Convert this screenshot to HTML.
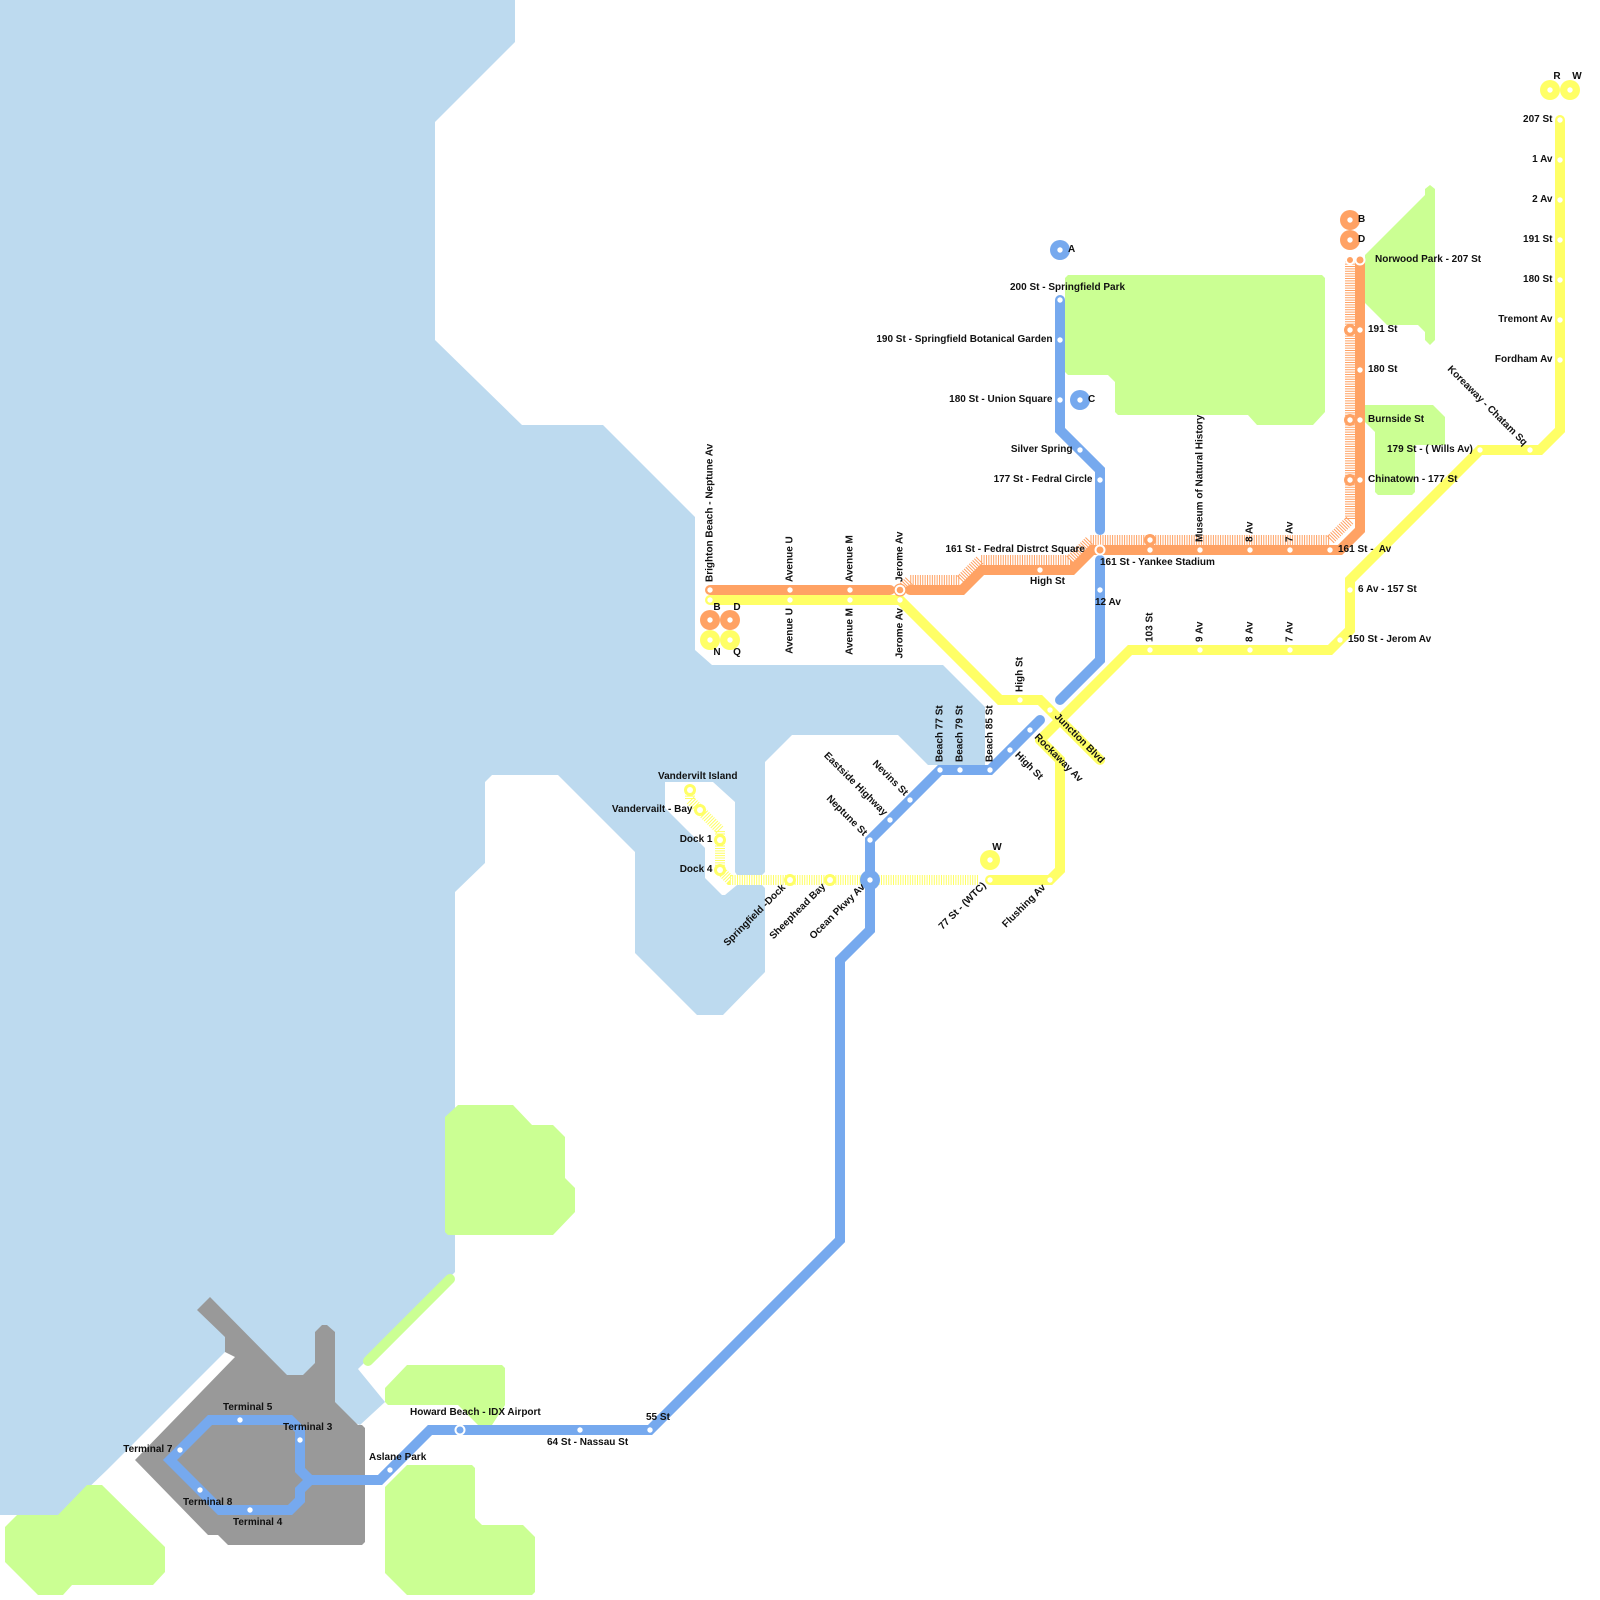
<!DOCTYPE html>
<html>
<head>
<meta charset="utf-8">
<style>
html,body{margin:0;padding:0;background:#fff;}
svg{display:block;}
text{font-family:"Liberation Sans",Arial,sans-serif;font-size:10px;font-weight:bold;fill:#111;white-space:pre;}
.e{text-anchor:end;}
.m{text-anchor:middle;}
.l{fill:none;stroke-width:10;stroke-linecap:round;stroke-linejoin:miter;}
.h{fill:none;stroke-width:10;stroke-linecap:butt;stroke-dasharray:1 1.4;}
.b{stroke:#76A9EE;}
.o{stroke:#FFA264;}
.y{stroke:#FFFF66;}
</style>
</head>
<body>
<svg xmlns="http://www.w3.org/2000/svg" width="1600" height="1600" viewBox="0 0 1600 1600">
<rect width="1600" height="1600" fill="#fff"/>
<!-- water -->
<polygon fill="#BDDAEF" points="0,0 515,0 515,42 435,122 435,340 522,425 603,425 695,517 695,650 712,665 943,665 985,707 985,765 928,765 898,735 792,735 765,762 765,872 762,875 737,875 735,872 735,802 713,782 665,782 665,808 705,848 705,878 722,895 725,895 737,885 762,885 765,888 765,972 723,1015 697,1015 635,953 635,852 558,775 492,775 485,782 485,863 455,892 455,1272 452,1275 358,1369 385,1402 360,1425 300,1400 235,1330 225,1352 107,1470 60,1515 0,1515"/>
<!-- parks -->
<g fill="#CBFF93">
<polygon points="1065,278 1068,275 1322,275 1325,278 1325,412 1313,425 1257,425 1248,415 1118,415 1115,412 1115,382 1108,375 1068,375 1065,372"/>
<polygon points="1365,255 1425,195 1425,189 1430,185 1435,189 1435,340 1430,345 1425,340 1425,332 1418,325 1387,325 1365,303"/>
<polygon points="1365,405 1433,405 1445,417 1445,445 1415,445 1415,492 1412,495 1378,495 1375,492 1375,432 1365,422"/>
<polygon points="445,1117 458,1105 513,1105 532,1125 553,1125 565,1137 565,1178 575,1188 575,1212 553,1235 448,1235 445,1232"/>
<polygon points="5,1527 17,1515 58,1515 87,1485 102,1485 165,1547 165,1572 153,1585 72,1585 63,1595 38,1595 5,1562"/>
<polygon points="385,1388 407,1365 502,1365 505,1368 505,1405 492,1425 478,1425 458,1405 388,1405 385,1402"/>
<polygon points="385,1487 407,1465 472,1465 475,1468 475,1518 482,1525 523,1525 535,1537 535,1592 532,1595 407,1595 385,1573"/>
<path d="M450,1279 L368,1361" fill="none" stroke="#CBFF93" stroke-width="10" stroke-linecap="round"/>
</g>
<!-- airport -->
<polygon fill="#999999" points="210,1297 197,1310 225,1337 225,1352 235,1357 135,1460 208,1535 218,1535 228,1545 362,1545 365,1542 365,1428 362,1425 358,1425 335,1402 335,1332 327,1325 322,1325 315,1332 315,1363 303,1375 287,1375"/>
<!-- blue lines -->
<path class="l b" d="M1060,300 L1060,430 L1100,470 L1100,530"/>
<path class="l b" d="M1100,560 L1100,660 L1060,700"/>
<path class="l b" d="M1040,720 L990,770 L940,770 L870,840 L870,930 L840,960 L840,1240 L650,1430 L430,1430 L380,1480 L310,1480"/>
<path class="l b" d="M310,1480 L300,1470 L300,1430 L290,1420 L210,1420 L170,1460 L220,1510 L290,1510 L300,1500 L300,1490 L310,1480"/>
<!-- yellow lines -->
<path class="l y" d="M710,600 L900,600 L1000,700 L1040,700 L1100,760"/>
<path class="l y" d="M1560,120 L1560,430 L1540,450 L1480,450 L1350,580 L1350,630 L1330,650 L1130,650 L1040,740"/>
<path class="l y" d="M1040,740 L1060,760 L1060,870 L1050,880 L990,880"/>
<path class="h y" d="M978,880 L730,880 L720,870 L720,830 L690,800 L690,790"/>
<!-- orange lines -->
<path class="l o" d="M710,590 L890,590"/>
<path class="l o" d="M910,590 L962,590 L982,570 L1072,570 L1092,550 L1340,550 L1360,530 L1360,260"/>
<path class="h o" d="M900,590 L910,580 L960,580 L980,560 L1070,560 L1090,540 L1330,540 L1350,520 L1350,260"/>
<!-- interchange circles -->
<g fill="#76A9EE">
<circle cx="1060" cy="250" r="10"/><circle cx="1080" cy="400" r="10"/><circle cx="870" cy="880" r="10"/>
</g>
<g fill="#FFA264">
<circle cx="1350" cy="220" r="10"/><circle cx="1350" cy="240" r="10"/><circle cx="710" cy="620" r="10"/><circle cx="730" cy="620" r="10"/>
<circle cx="1350" cy="330" r="6"/><circle cx="1350" cy="420" r="6"/><circle cx="1350" cy="480" r="6"/><circle cx="1150" cy="540" r="6"/>
<circle cx="900" cy="590" r="6.5"/>
</g>
<g fill="#FFFF66">
<circle cx="710" cy="640" r="10"/><circle cx="730" cy="640" r="10"/><circle cx="1550" cy="90" r="10"/><circle cx="1570" cy="90" r="10"/><circle cx="990" cy="860" r="10"/>
<circle cx="690" cy="790" r="6"/><circle cx="700" cy="810" r="6"/><circle cx="720" cy="840" r="6"/><circle cx="720" cy="870" r="6"/><circle cx="790" cy="880" r="6"/><circle cx="830" cy="880" r="6"/>
</g>
<!-- hollow rings -->
<circle cx="900" cy="590" r="4.3" fill="#FFA264" stroke="#fff" stroke-width="2"/>
<circle cx="1100" cy="550" r="4.5" fill="#FFA264" stroke="#fff" stroke-width="2"/>
<circle cx="460" cy="1430" r="4.5" fill="#76A9EE" stroke="#fff" stroke-width="2"/>
<circle cx="1360" cy="260" r="4.5" fill="#FFA264" stroke="#fff" stroke-width="2"/>
<circle cx="1350" cy="260" r="4" fill="#FFA264" stroke="#fff" stroke-width="2"/>
<!-- station dots -->
<g fill="#fff">
<circle cx="710" cy="590" r="2.7"/><circle cx="790" cy="590" r="2.7"/><circle cx="850" cy="590" r="2.7"/>
<circle cx="710" cy="600" r="2.7"/><circle cx="790" cy="600" r="2.7"/><circle cx="850" cy="600" r="2.7"/><circle cx="900" cy="600" r="2.7"/>
<circle cx="710" cy="620" r="2.7"/><circle cx="730" cy="620" r="2.7"/><circle cx="710" cy="640" r="2.7"/><circle cx="730" cy="640" r="2.7"/>
<circle cx="1040" cy="570" r="2.7"/>
<circle cx="1150" cy="540" r="2.7"/><circle cx="1150" cy="550" r="2.7"/><circle cx="1200" cy="550" r="2.7"/><circle cx="1250" cy="550" r="2.7"/><circle cx="1290" cy="550" r="2.7"/><circle cx="1330" cy="550" r="2.7"/>
<circle cx="1350" cy="220" r="2.7"/><circle cx="1350" cy="240" r="2.7"/>
<circle cx="1350" cy="330" r="2.7"/><circle cx="1350" cy="420" r="2.7"/><circle cx="1350" cy="480" r="2.7"/>
<circle cx="1360" cy="330" r="2.7"/><circle cx="1360" cy="370" r="2.7"/><circle cx="1360" cy="420" r="2.7"/><circle cx="1360" cy="480" r="2.7"/>
<circle cx="1060" cy="250" r="2.7"/><circle cx="1080" cy="400" r="2.7"/>
<circle cx="1060" cy="300" r="2.7"/><circle cx="1060" cy="340" r="2.7"/><circle cx="1060" cy="400" r="2.7"/><circle cx="1080" cy="450" r="2.7"/><circle cx="1100" cy="480" r="2.7"/><circle cx="1100" cy="590" r="2.7"/>
<circle cx="1030" cy="730" r="2.7"/><circle cx="1010" cy="750" r="2.7"/><circle cx="990" cy="770" r="2.7"/><circle cx="960" cy="770" r="2.7"/><circle cx="940" cy="770" r="2.7"/>
<circle cx="910" cy="800" r="2.7"/><circle cx="890" cy="820" r="2.7"/><circle cx="870" cy="840" r="2.7"/><circle cx="870" cy="880" r="2.7"/>
<circle cx="650" cy="1430" r="2.7"/><circle cx="580" cy="1430" r="2.7"/><circle cx="390" cy="1470" r="2.7"/>
<circle cx="240" cy="1420" r="2.7"/><circle cx="300" cy="1440" r="2.7"/><circle cx="180" cy="1450" r="2.7"/><circle cx="200" cy="1490" r="2.7"/><circle cx="250" cy="1510" r="2.7"/>
<circle cx="1560" cy="120" r="2.7"/><circle cx="1560" cy="160" r="2.7"/><circle cx="1560" cy="200" r="2.7"/><circle cx="1560" cy="240" r="2.7"/><circle cx="1560" cy="280" r="2.7"/><circle cx="1560" cy="320" r="2.7"/><circle cx="1560" cy="360" r="2.7"/>
<circle cx="1550" cy="90" r="2.7"/><circle cx="1570" cy="90" r="2.7"/>
<circle cx="1530" cy="450" r="2.7"/><circle cx="1480" cy="450" r="2.7"/><circle cx="1350" cy="590" r="2.7"/><circle cx="1340" cy="640" r="2.7"/>
<circle cx="1150" cy="650" r="2.7"/><circle cx="1200" cy="650" r="2.7"/><circle cx="1250" cy="650" r="2.7"/><circle cx="1290" cy="650" r="2.7"/>
<circle cx="1020" cy="700" r="2.7"/><circle cx="1050" cy="710" r="2.7"/>
<circle cx="990" cy="860" r="2.7"/><circle cx="990" cy="880" r="2.7"/><circle cx="1050" cy="880" r="2.7"/>
<circle cx="690" cy="790" r="3"/><circle cx="700" cy="810" r="3"/><circle cx="720" cy="840" r="3"/><circle cx="720" cy="870" r="3"/><circle cx="790" cy="880" r="3"/><circle cx="830" cy="880" r="3"/>
</g>
<!-- horizontal labels -->
<g transform="translate(0,-1)">
<text x="1068" y="253">A</text>
<text x="1088" y="403">C</text>
<text x="1010" y="291">200 St - Springfield Park</text>
<text class="e" x="1052.5" y="343">190 St - Springfield Botanical Garden</text>
<text class="e" x="1052.5" y="403">180 St - Union Square</text>
<text class="e" x="1072.5" y="453">Silver Spring</text>
<text class="e" x="1092.5" y="483">177 St - Fedral Circle</text>
<text class="e" x="1085" y="553">161 St - Fedral Distrct Square</text>
<text x="1030" y="585">High St</text>
<text x="1100" y="566">161 St - Yankee Stadium</text>
<text x="1095" y="606">12 Av</text>
<text x="1358" y="223">B</text>
<text x="1358" y="243">D</text>
<text x="1375" y="263">Norwood Park - 207 St</text>
<text x="1368" y="333">191 St</text>
<text x="1368" y="373">180 St</text>
<text x="1368" y="423">Burnside St</text>
<text x="1368" y="483">Chinatown - 177 St</text>
<text x="1387" y="453">179 St - ( Wills Av)</text>
<text x="1338" y="553" xml:space="preserve">161 St -  Av</text>
<text x="1358" y="593">6 Av - 157 St</text>
<text x="1348" y="643">150 St - Jerom Av</text>
<text class="e" x="1552.5" y="123">207 St</text>
<text class="e" x="1552.5" y="163">1 Av</text>
<text class="e" x="1552.5" y="203">2 Av</text>
<text class="e" x="1552.5" y="243">191 St</text>
<text class="e" x="1552.5" y="283">180 St</text>
<text class="e" x="1552.5" y="323">Tremont Av</text>
<text class="e" x="1552.5" y="363">Fordham Av</text>
<text class="m" x="1557" y="80">R</text>
<text class="m" x="1577" y="80">W</text>
<text class="m" x="717" y="611">B</text>
<text class="m" x="737" y="611">D</text>
<text class="m" x="717" y="656">N</text>
<text class="m" x="737" y="656">Q</text>
<text class="m" x="997" y="851">W</text>
<text x="658" y="780">Vandervilt Island</text>
<text class="e" x="692.5" y="813">Vandervailt - Bay</text>
<text class="e" x="712.5" y="843">Dock 1</text>
<text class="e" x="712.5" y="873">Dock 4</text>
<text x="223" y="1411">Terminal 5</text>
<text x="283" y="1431">Terminal 3</text>
<text class="e" x="172.5" y="1453">Terminal 7</text>
<text x="183" y="1506">Terminal 8</text>
<text x="233" y="1526">Terminal 4</text>
<text x="369" y="1461">Aslane Park</text>
<text x="410" y="1416">Howard Beach - IDX Airport</text>
<text x="547" y="1446">64 St - Nassau St</text>
<text x="646" y="1421">55 St</text>
</g>
<!-- vertical labels -->
<g transform="translate(-0.7,0)">
<text transform="translate(713,582) rotate(-90)">Brighton Beach - Neptune Av</text>
<text transform="translate(793,582) rotate(-90)">Avenue U</text>
<text transform="translate(853,582) rotate(-90)">Avenue M</text>
<text transform="translate(903,582) rotate(-90)">Jerome Av</text>
<text class="e" transform="translate(793,608) rotate(-90)">Avenue U</text>
<text class="e" transform="translate(853,608) rotate(-90)">Avenue M</text>
<text class="e" transform="translate(903,608) rotate(-90)">Jerome Av</text>
<text transform="translate(1023,692) rotate(-90)">High St</text>
<text transform="translate(943,762) rotate(-90)">Beach 77 St</text>
<text transform="translate(963,762) rotate(-90)">Beach 79 St</text>
<text transform="translate(993,762) rotate(-90)">Beach 85 St</text>
<text transform="translate(1203,542) rotate(-90)">Museum of Natural History</text>
<text transform="translate(1253,542) rotate(-90)">8 Av</text>
<text transform="translate(1293,542) rotate(-90)">7 Av</text>
<text transform="translate(1153,642) rotate(-90)">103 St</text>
<text transform="translate(1203,642) rotate(-90)">9 Av</text>
<text transform="translate(1253,642) rotate(-90)">8 Av</text>
<text transform="translate(1293,642) rotate(-90)">7 Av</text>
</g>
<!-- diagonal down labels -->
<text transform="translate(1054,717) rotate(45)">Junction Blvd</text>
<text transform="translate(1034,737.5) rotate(45)">Rockaway Av</text>
<text transform="translate(1014.5,755.5) rotate(45)">High St</text>
<text transform="translate(872,764) rotate(45)">Nevins St</text>
<text transform="translate(823.5,756) rotate(45)">Eastside Highway</text>
<text transform="translate(826,799) rotate(45)">Neptune St</text>
<text transform="translate(1447,369.5) rotate(45)">Koreaway - Chatam Sq</text>
<!-- diagonal up labels -->
<text class="e" transform="translate(786,888) rotate(-45)">Springfield -Dock</text>
<text class="e" transform="translate(826,887) rotate(-45)">Sheephead Bay</text>
<text class="e" transform="translate(865.5,887.5) rotate(-45)">Ocean Pkwy Av</text>
<text class="e" transform="translate(986.5,886) rotate(-45)">77 St - (WTC)</text>
<text class="e" transform="translate(1046,888) rotate(-45)">Flushing Av</text>
</svg>
</body>
</html>
